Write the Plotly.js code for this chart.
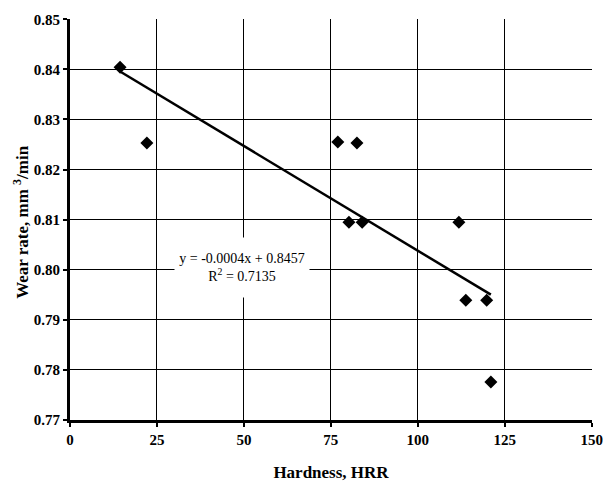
<!DOCTYPE html>
<html>
<head>
<meta charset="utf-8">
<script src="https://cdn.plot.ly/plotly-3.0.1.min.js"></script>
<style>html,body{margin:0;padding:0;background:#fff;}#chart{width:603px;height:482px;}</style>
</head>
<body>
<div id="chart"></div>
<script>
// Data
const hardness = [14.4, 22.1, 77.0, 82.5, 80.2, 84.0, 111.8, 113.8, 119.8, 121.0];
const wearRate = [0.8404, 0.8253, 0.8255, 0.8253, 0.8095, 0.8095, 0.8095, 0.7939, 0.7939, 0.7776];
const xTicks = [0, 25, 50, 75, 100, 125, 150];
const yTicks = [0.77, 0.78, 0.79, 0.80, 0.81, 0.82, 0.83, 0.84, 0.85];
const equationText = "y = -0.0004x + 0.8457<br>R<sup>2</sup> = 0.7135";

// least-squares trendline over the data range
const n = hardness.length;
const mx = hardness.reduce((a, b) => a + b, 0) / n;
const my = wearRate.reduce((a, b) => a + b, 0) / n;
let sxy = 0, sxx = 0;
for (let i = 0; i < n; i++) { sxy += (hardness[i] - mx) * (wearRate[i] - my); sxx += (hardness[i] - mx) ** 2; }
const slope = sxy / sxx, intercept = my - slope * mx;
const xMin = Math.min(...hardness), xMax = Math.max(...hardness);
const trendX = [xMin, xMax];
const trendY = trendX.map(x => intercept + slope * x);

const FONT = "Liberation Serif, Times New Roman, serif";

const traces = [
  { x: hardness, y: wearRate, type: 'scatter', mode: 'markers',
    marker: { symbol: 'diamond', size: 10, color: '#000' }, showlegend: false, hoverinfo: 'none' },
  { x: trendX, y: trendY, type: 'scatter', mode: 'lines',
    line: { color: '#000', width: 2.5 }, showlegend: false, hoverinfo: 'none' }
];

const layout = {
  width: 603, height: 482,
  margin: { l: 70, r: 11, t: 19, b: 62 },
  paper_bgcolor: '#fff', plot_bgcolor: '#fff',
  font: { family: FONT, color: '#000' },
  xaxis: {
    range: [0, 150.08], tickvals: xTicks, ticktext: xTicks.map(String),
    showgrid: true, gridcolor: '#000', gridwidth: 1,
    zeroline: false, showline: true, linecolor: '#000', linewidth: 3,
    ticks: 'outside', ticklen: 4, tickwidth: 2, tickcolor: '#000',
    tickfont: { family: FONT, size: 15, weight: 'bold', color: '#000' },
    title: { text: 'Hardness, HRR', font: { family: FONT, size: 17, weight: 'bold', color: '#000' }, standoff: 20 }
  },
  yaxis: {
    range: [0.77, 0.85005], tickvals: yTicks, ticktext: yTicks.map(v => v.toFixed(2)),
    showgrid: true, gridcolor: '#000', gridwidth: 1,
    zeroline: false, showline: true, linecolor: '#000', linewidth: 3,
    ticks: 'outside', ticklen: 4, tickwidth: 2, tickcolor: '#000',
    tickfont: { family: FONT, size: 15, weight: 'bold', color: '#000' }
  },
  annotations: [
    { x: 49.4, y: 0.8004, xref: 'x', yref: 'y', text: equationText, showarrow: false,
      xanchor: 'center', yanchor: 'middle', bgcolor: '#fff', width: 132, height: 57, borderpad: 1,
      font: { family: FONT, size: 14, color: '#000' } },
    { x: -0.094, y: 0.494, xref: 'paper', yref: 'paper', text: 'Wear rate, mm <sup>3</sup>/min',
      showarrow: false, textangle: -90, xanchor: 'center', yanchor: 'middle',
      font: { family: FONT, size: 17, weight: 'bold', color: '#000' } }
  ]
};

Plotly.newPlot('chart', traces, layout, { staticPlot: true, displayModeBar: false });
</script>
</body>
</html>
